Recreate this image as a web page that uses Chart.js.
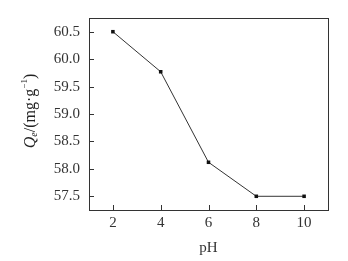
<!DOCTYPE html>
<html><head><meta charset="utf-8">
<script src="https://cdn.jsdelivr.net/npm/chart.js@4"></script>
<style>html,body{margin:0;padding:0;background:#fff}canvas{display:block}</style>
</head><body>
<canvas id="c" width="348" height="261"></canvas>
<script>
const pH = [2, 4, 6, 8, 10];
const Qe = [60.5, 59.77, 58.12, 57.5, 57.5];
const xTicks = [2, 4, 6, 8, 10];
const yTicks = [57.5, 58.0, 58.5, 59.0, 59.5, 60.0, 60.5];
const FONT = '"Liberation Serif", "Times New Roman", serif';

const frame = {
  id: 'frame',
  afterDraw(chart) {
    const ctx = chart.ctx, a = chart.chartArea;
    const xs = chart.scales.x, ys = chart.scales.y;
    ctx.save();
    ctx.strokeStyle = '#333';
    ctx.lineWidth = 1;
    ctx.strokeRect(Math.round(a.left) + 0.5, Math.round(a.top) + 0.5, Math.round(a.right - a.left), Math.round(a.bottom - a.top));
    ctx.beginPath();
    xTicks.forEach(v => { const px = Math.round(xs.getPixelForValue(v)) + 0.5; ctx.moveTo(px, a.bottom); ctx.lineTo(px, a.bottom - 5); });
    yTicks.forEach(v => { const py = Math.round(ys.getPixelForValue(v)) + 0.5; ctx.moveTo(a.left, py); ctx.lineTo(a.left + 5, py); });
    ctx.stroke();
    // y title
    ctx.fillStyle = '#222';
    ctx.translate(31, (a.top + a.bottom) / 2 - 3);
    ctx.rotate(-Math.PI / 2);
    const parts = [
      {t: 'Q', f: 'italic 16px ' + FONT, dy: 0},
      {t: 'e', f: 'italic 10px ' + FONT, dy: 3},
      {t: '/(mg·g', f: '16px ' + FONT, dy: 0},
      {t: '−1', f: '9px ' + FONT, dy: -6},
      {t: ')', f: '16px ' + FONT, dy: 0}
    ];
    let w = 0;
    parts.forEach(p => { ctx.font = p.f; w += ctx.measureText(p.t).width; });
    let x = -w / 2;
    ctx.textBaseline = 'middle';
    parts.forEach(p => { ctx.font = p.f; ctx.fillText(p.t, x, p.dy); x += ctx.measureText(p.t).width; });
    ctx.restore();
  }
};

new Chart(document.getElementById('c'), {
  type: 'line',
  data: {
    datasets: [{
      data: pH.map((v, i) => ({x: v, y: Qe[i]})),
      borderColor: '#333',
      borderWidth: 1,
      pointStyle: 'rect',
      pointRadius: 2.5,
      pointBackgroundColor: '#111',
      pointBorderColor: '#111',
      pointBorderWidth: 0,
      tension: 0
    }]
  },
  options: {
    responsive: false,
    animation: false,
    events: [],
    layout: {padding: {left: 0, right: 20, top: 15, bottom: 0}},
    plugins: {legend: {display: false}, tooltip: {enabled: false}},
    scales: {
      x: {
        type: 'linear', min: 1, max: 11,
        afterBuildTicks(s) { s.ticks = xTicks.map(v => ({value: v})); },
        afterFit(s) { s.height = 51; },
        grid: {display: false, drawTicks: false},
        border: {display: false},
        ticks: {color: '#333', font: {family: FONT, size: 15}, padding: 4, maxRotation: 0},
        title: {display: true, text: 'pH', color: '#333', font: {family: FONT, size: 15}, padding: {top: 1}}
      },
      y: {
        type: 'linear', min: 57.25, max: 60.75,
        afterBuildTicks(s) { s.ticks = yTicks.map(v => ({value: v})); },
        afterFit(s) { s.width = 89; },
        grid: {display: false, drawTicks: false},
        border: {display: false},
        ticks: {color: '#333', font: {family: FONT, size: 15}, padding: 9, callback: v => v.toFixed(1)}
      }
    }
  },
  plugins: [frame]
});
</script>
</body></html>
